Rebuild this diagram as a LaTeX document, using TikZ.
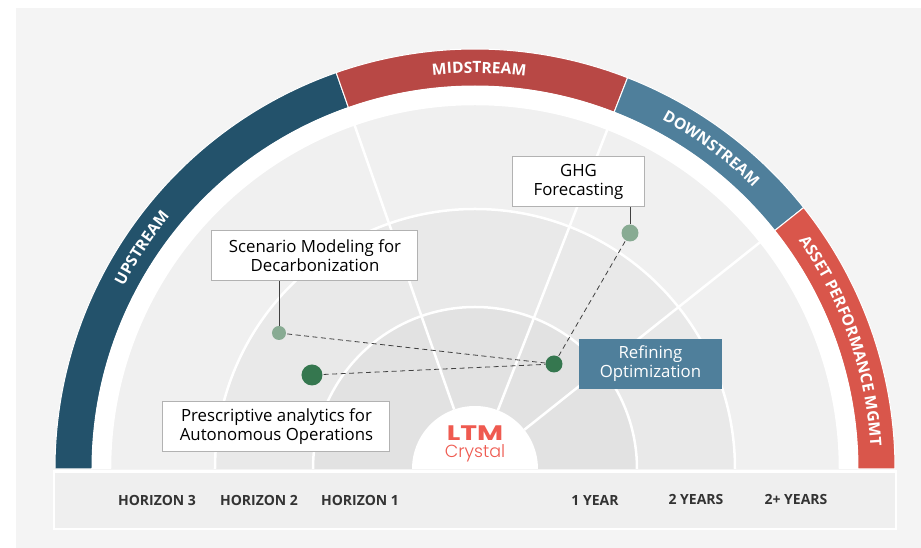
\documentclass[tikz,border=0pt]{standalone}
\usepackage{fontspec}
\setmainfont{Open Sans}
\newfontfamily\logofont{Poppins}
\newfontfamily\logolight{Poppins}[UprightFont=* Light]
\usetikzlibrary{decorations.text}

\definecolor{panelgray}{HTML}{F4F4F4}
\definecolor{barggray}{HTML}{EFEFEF}
\definecolor{upcol}{HTML}{23526B}
\definecolor{midcol}{HTML}{B84845}
\definecolor{downcol}{HTML}{4F7F9B}
\definecolor{assetcol}{HTML}{D9564B}
\definecolor{logocol}{HTML}{EF5A50}
\definecolor{darkdot}{HTML}{35774F}
\definecolor{lightdot}{HTML}{88AB93}

\tikzset{
  labelbox/.style={draw=black!30, line width=1pt, fill=white, align=center, text=black,
    minimum height=50pt, inner sep=0pt, font=\fontsize{16.8}{19}\selectfont},
  bluebox/.style={labelbox, draw=none, fill=downcol, text=white},
  bandtext/.style={decorate, decoration={text along path, text align=center,
    text color=white}},
  axislabel/.style={text=black!80, font=\fontsize{14}{15}\selectfont\bfseries, inner sep=0pt},
  dotsmall/.style={circle, fill=lightdot, inner sep=0pt, minimum size=14pt},
  dotmid/.style={circle, inner sep=0pt, minimum size=17pt},
}

\begin{document}
\begin{tikzpicture}[x=1pt, y=1pt]

\useasboundingbox (-475,-79) rectangle (446,469);
\fill[white] (-475,-79) rectangle (446,469);
\fill[panelgray] (-459,-79) rectangle (446,461);

% the four bands
\foreach \from/\to/\col in {109.3/180/upcol, 68.7/109.3/midcol, 38.5/68.7/downcol, 0/38.5/assetcol}
  \filldraw[fill=\col, draw=white, line width=1pt] (\from:420) arc[start angle=\from, end angle=\to, radius=420]
    -- (\to:383) arc[start angle=\to, end angle=\from, radius=383] -- cycle;

\path[bandtext, decoration={text={|\fontsize{15.6}{15}\selectfont\bfseries|UPSTREAM}}]
  (183.6:396) arc[start angle=183.6, end angle=109.3, radius=396];
\path[bandtext, decoration={text={|\fontsize{15.6}{15}\selectfont\bfseries|MIDSTREAM}}]
  (110.1:396) arc[start angle=110.1, end angle=68.7, radius=396];
\path[bandtext, decoration={text={|\fontsize{15.6}{15}\selectfont\bfseries|DOWNSTREAM}}]
  (68.7:396) arc[start angle=68.7, end angle=38.5, radius=396];
\path[bandtext, decoration={text={|\fontsize{15.6}{15}\selectfont\bfseries|ASSET PERFORMANCE MGMT}}]
  (38.5:396) arc[start angle=38.5, end angle=0, radius=396];

% horizon rings
\fill[white] (-383,0) arc[start angle=180, end angle=0, radius=383] -- cycle;
\foreach \rad/\shade in {365/F0F0F0, 260/E9E9E9, 162/E2E2E2}{
  \definecolor{ringcol}{HTML}{\shade}
  \filldraw[fill=ringcol, draw=white, line width=2.5pt] (-\rad,0) arc[start angle=180, end angle=0, radius=\rad];
}
\foreach \ang in {109.3, 68.7, 38.5}
  \draw[white, line width=2.5pt] (\ang:63) -- (\ang:383);
\fill[white] (-63,0) arc[start angle=180, end angle=0, radius=63] -- cycle;

% bottom bar
\filldraw[fill=barggray, draw=white, line width=2.5pt] (-421,-60) rectangle (421,-2.5);
\node[axislabel] (h3) at (-318,-31) {HORIZON 3};
\node[axislabel] (h2) at (-216,-31) {HORIZON 2};
\node[axislabel] (h1) at (-115,-31) {HORIZON 1};
\node[axislabel] (y1) at (120,-31) {1 YEAR};
\node[axislabel] (y2) at (221,-31) {2 YEARS};
\node[axislabel] (y3) at (321,-31) {2+ YEARS};

% logo
\node[text=logocol, inner sep=0pt, font=\logofont\fontsize{21}{21}\selectfont\bfseries\addfontfeature{FakeStretch=1.35}] (ltm) at (0,36) {LTM};
\node[text=logocol, inner sep=0pt, font=\logolight\fontsize{17.5}{18}\selectfont] (crystal) at (0,16) {Crystal};

% dots
\node[dotsmall] (dotsc) at (-196,136) {};
\node[dotmid, fill=darkdot, minimum size=21pt] (dotpr) at (-163,94) {};
\node[dotmid, fill=darkdot] (dotre) at (79,105) {};
\node[dotmid, fill=lightdot] (dotgh) at (155,236) {};

% labels
\node[labelbox, minimum width=206pt] (boxsc) at (-160,213) {Scenario Modeling for\\Decarbonization};
\node[labelbox, minimum width=131pt] (boxgh) at (103.5,287) {GHG\\Forecasting};
\node[labelbox, minimum width=227pt] (boxpr) at (-198.5,42) {Prescriptive analytics for\\Autonomous Operations};
\node[bluebox, minimum width=143pt] (boxre) at (175.5,105) {Refining\\Optimization};

\draw[black!75, line width=.8pt] (boxsc.south -| dotsc) -- (dotsc);
\draw[black!75, line width=.8pt] (boxgh.south -| dotgh) -- (dotgh);
\foreach \from in {dotsc, dotpr, dotgh}
  \draw[black!75, line width=.8pt, dash pattern=on 5pt off 3.5pt, shorten <=1pt] (\from) -- (dotre);

\end{tikzpicture}
\end{document}
